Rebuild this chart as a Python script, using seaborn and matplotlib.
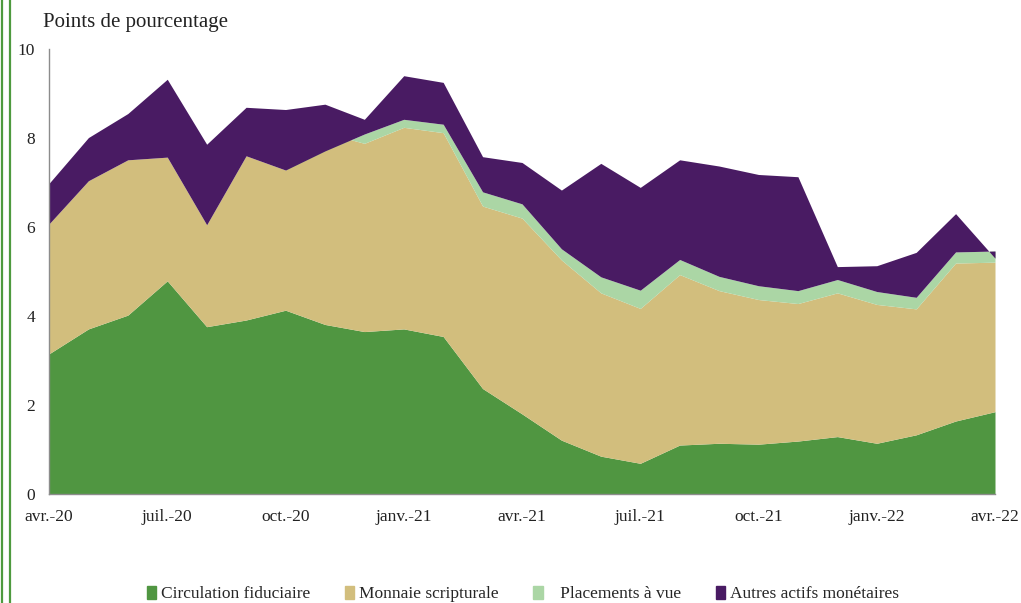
import numpy as np
import matplotlib
matplotlib.use("Agg")
import matplotlib.pyplot as plt
from matplotlib.lines import Line2D
import seaborn as sns

months = ["avr.-20", "mai-20", "juin-20", "juil.-20", "août-20", "sept.-20", "oct.-20",
          "nov.-20", "déc.-20", "janv.-21", "févr.-21", "mars-21", "avr.-21", "mai-21",
          "juin-21", "juil.-21", "août-21", "sept.-21", "oct.-21", "nov.-21", "déc.-21",
          "janv.-22", "févr.-22", "mars-22", "avr.-22"]

circulation = [3.15, 3.71, 4.02, 4.79, 3.76, 3.91, 4.13, 3.81, 3.65, 3.71, 3.54, 2.37, 1.80,
               1.21, 0.85, 0.69, 1.10, 1.14, 1.12, 1.19, 1.29, 1.14, 1.33, 1.64, 1.85]
monnaie = [2.92, 3.33, 3.49, 2.78, 2.29, 3.69, 3.15, 4.31, 4.23, 4.53, 4.58, 4.10, 4.40,
           4.05, 3.67, 3.48, 3.83, 3.43, 3.25, 3.09, 3.23, 3.12, 2.83, 3.55, 3.36]
placements = [0.00, 0.00, 0.00, 0.00, 0.00, 0.00, 0.00, -0.41, 0.21, 0.18, 0.19, 0.32, 0.32,
              0.25, 0.36, 0.41, 0.34, 0.32, 0.31, 0.29, 0.30, 0.29, 0.26, 0.25, 0.25]
autres = [0.91, 0.97, 1.04, 1.75, 1.81, 1.09, 1.36, 1.05, 0.33, 0.98, 0.94, 0.79, 0.93,
          1.32, 2.55, 2.31, 2.24, 2.48, 2.50, 2.56, 0.29, 0.58, 1.01, 0.86, -0.16]

series_names = ["Circulation fiduciaire", "Monnaie scripturale", "   Placements à vue",
                "Autres actifs monétaires"]
colors = ["#509641", "#D2BE7D", "#ABD6A5", "#491B63"]
tick_labels = ["avr.-20", "juil.-20", "oct.-20", "janv.-21", "avr.-21", "juil.-21",
               "oct.-21", "janv.-22", "avr.-22"]
y_ticks = [0, 2, 4, 6, 8, 10]

sns.set_style("white")
plt.rcParams["font.family"] = ["Liberation Serif", "DejaVu Serif"]

fig = plt.figure(figsize=(10.21, 6.03), dpi=100)
ax = fig.add_axes([49 / 1021, 1 - 494 / 603, (995 - 49) / 1021, (494 - 49) / 603])

x = np.arange(len(months))
data = [circulation, monnaie, placements, autres]
lower = np.zeros(len(months))
for vals, col, name in zip(data, colors, series_names):
    upper = lower + np.array(vals)
    ax.fill_between(x, lower, upper, color=col, linewidth=0, label=name, zorder=2)
    lower = upper

ax.set_xlim(0, len(months) - 1)
ax.set_ylim(0, 10)
ax.set_xticks(x[::3])
ax.set_xticklabels(tick_labels)
ax.set_yticks(y_ticks)
ax.set_yticklabels([str(v) for v in y_ticks])

sns.despine(ax=ax, top=True, right=True)
for s in ["left", "bottom"]:
    ax.spines[s].set_color("#8c8c8c")
    ax.spines[s].set_linewidth(1.0)
    ax.spines[s].set_zorder(3)
ax.tick_params(axis="both", colors="#8c8c8c", labelcolor="#222222", labelsize=12.5,
               length=5, width=1, direction="out")
ax.tick_params(axis="x", pad=6)
ax.tick_params(axis="y", pad=5)
ax.grid(False)

fig.text(43 / 1021, 1 - 22 / 603, "Points de pourcentage", fontsize=15,
         color="#222222", va="center", ha="left")

handles = [plt.Rectangle((0, 0), 1, 1, color=c) for c in colors]
fig.legend(handles, series_names, loc="center", bbox_to_anchor=(0.512, 1 - 594 / 603),
           ncol=4, frameon=False, fontsize=12.5, handlelength=0.55, handleheight=0.75,
           handletextpad=0.25, columnspacing=2.0, borderaxespad=0)

for xp in [1.5, 9.7]:
    fig.add_artist(Line2D([xp / 1021, xp / 1021], [0, 1], color="#4E9A3F",
                          linewidth=1.6, transform=fig.transFigure))

fig.savefig("out.png", dpi=100)
